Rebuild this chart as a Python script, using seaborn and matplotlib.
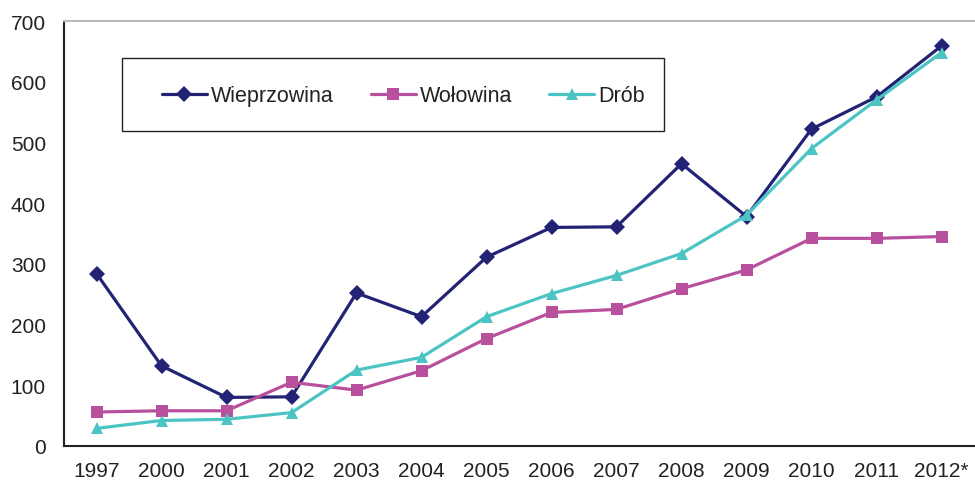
import pandas as pd
import matplotlib.pyplot as plt
import seaborn as sns
from matplotlib.patches import Rectangle

# Data
years = ['1997', '2000', '2001', '2002', '2003', '2004', '2005', '2006',
         '2007', '2008', '2009', '2010', '2011', '2012*']
wieprzowina = [284, 132, 80, 81, 252, 213, 311, 360, 361, 465, 378, 522, 575, 659]
wolowina = [56, 58, 58, 105, 92, 124, 177, 220, 225, 259, 290, 342, 342, 345]
drob = [29, 42, 44, 55, 125, 146, 213, 251, 281, 317, 380, 490, 570, 648]

series = ['Wieprzowina', 'Wołowina', 'Drób']
colors = ['#232375', '#B8509E', '#4CC4C4']
markers = ['D', 's', '^']

# Long-form table for seaborn
df = pd.concat([
    pd.DataFrame({'idx': range(len(years)), 'value': vals, 'series': name})
    for name, vals in zip(series, [wieprzowina, wolowina, drob])
])

sns.set_style('white')
plt.rcParams['font.family'] = ['Liberation Sans', 'DejaVu Sans']

fig = plt.figure(figsize=(9.75, 4.81), dpi=100)
ax = fig.add_axes([64 / 975, 34 / 481, 910 / 975, 425 / 481])

sns.lineplot(data=df, x='idx', y='value', hue='series', style='series',
             palette=colors, markers=markers, dashes=False, linewidth=2.3,
             markersize=8.5, markeredgewidth=0, ax=ax, legend=False)

# Legend box drawn separately, entries placed inside it
fig.patches.append(Rectangle((122 / 975, 1 - 132 / 481), 542 / 975, 73 / 481,
                             transform=fig.transFigure, fill=False,
                             edgecolor='#222222', linewidth=1.0, zorder=5))
handles = [plt.Line2D([], [], color=c, marker=m, lw=2.3, markersize=8.5,
                      markeredgewidth=0) for c, m in zip(colors, markers)]
leg = fig.legend(handles, series, loc='center left', ncol=3,
                 bbox_to_anchor=(151 / 975, 1 - 97 / 481),
                 fontsize=15.5, frameon=False, borderpad=0,
                 handlelength=2.1, handletextpad=0.2, columnspacing=1.7)
for t in leg.get_texts():
    t.set_color('#222222')

# Axes styling
ax.set_xlim(-0.5, len(years) - 0.5)
ax.set_ylim(0, 700)
ax.set_yticks(range(0, 701, 100))
ax.set_xticks([i - 0.5 for i in range(len(years))])
ax.set_xticklabels([])
ax.set_xticks(range(len(years)), minor=True)
ax.set_xticklabels(years, minor=True)
ax.tick_params(axis='x', which='major', direction='out', length=4.5,
               width=1.5, color='#222222')
ax.tick_params(axis='x', which='minor', length=0, pad=11, labelsize=15,
               labelcolor='#222222')
ax.tick_params(axis='y', direction='out', length=4.5, width=1.5,
               color='#222222', labelsize=15, labelcolor='#222222', pad=8.5)
ax.set_xlabel('')
ax.set_ylabel('')

for side in ['left', 'bottom']:
    ax.spines[side].set_color('#222222')
    ax.spines[side].set_linewidth(1.5)
ax.spines['right'].set_visible(False)
ax.spines['top'].set_color('#BBBBBB')
ax.spines['top'].set_linewidth(1.5)

fig.savefig('out.png', dpi=100)
